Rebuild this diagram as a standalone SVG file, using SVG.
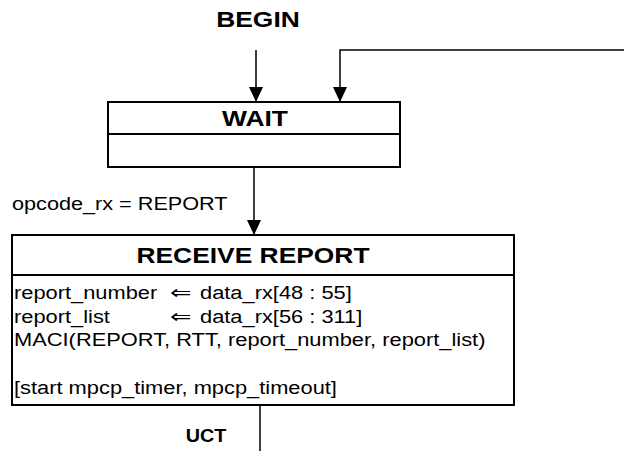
<svg xmlns="http://www.w3.org/2000/svg" width="624" height="451" viewBox="0 0 624 451">
  <style>
    .t { font-family: "Liberation Sans", Arial, sans-serif; fill: #000; }
    .b { font-weight: bold; font-size: 22px; }
    .r { font-size: 19px; }
    .arr { font-family: "DejaVu Sans", sans-serif; font-size: 19px; fill: #000; }
    .box { fill: #fff; stroke: #000; stroke-width: 2; }
    .div { stroke: #000; stroke-width: 2; fill: none; }
    .con { stroke: #000; stroke-width: 1.5; fill: none; }
  </style>
  <defs>
    <marker id="ah" markerUnits="userSpaceOnUse" markerWidth="14" markerHeight="15" viewBox="0 0 14 15" refX="7" refY="15" orient="0">
      <path d="M0,0 L14,0 L7,15 Z" fill="#000"/>
    </marker>
  </defs>
  <rect width="624" height="451" fill="#fff"/>

  <g id="begin">
    <text class="t b" text-anchor="middle" transform="translate(258 27) scale(1.2 1)">BEGIN</text>
  </g>

  <g id="connectors">
    <line class="con" x1="256" y1="50" x2="256" y2="102" marker-end="url(#ah)"/>
    <polyline class="con" points="624,50 340,50 340,102" marker-end="url(#ah)"/>
    <line class="con" x1="254" y1="167" x2="254" y2="235" marker-end="url(#ah)"/>
    <line class="con" x1="260" y1="405" x2="260" y2="451"/>
    <text class="t r" transform="translate(12 210) scale(1.14 1)">opcode_rx = REPORT</text>
    <text class="t b" style="font-size:18px" text-anchor="middle" transform="translate(206 442) scale(1.1 1)">UCT</text>
  </g>

  <g id="wait">
    <rect class="box" x="108" y="102" width="292" height="65"/>
    <line class="div" x1="108" y1="134" x2="400" y2="134"/>
    <text class="t b" text-anchor="middle" transform="translate(255 126) scale(1.2 1)">WAIT</text>
  </g>

  <g id="receive_report">
    <rect class="box" x="12" y="235" width="502" height="170"/>
    <line class="div" x1="12" y1="275" x2="514" y2="275"/>
    <text class="t b" text-anchor="middle" transform="translate(253 263) scale(1.2 1)">RECEIVE REPORT</text>
    <text class="t r" transform="translate(14 299) scale(1.15 1)">report_number</text>
    <text class="arr" transform="translate(170 299) scale(1.35 1)">⇐</text>
    <text class="t r" transform="translate(200 299) scale(1.15 1)">data_rx[48 : 55]</text>
    <text class="t r" transform="translate(14 323) scale(1.15 1)">report_list</text>
    <text class="arr" transform="translate(170 323) scale(1.35 1)">⇐</text>
    <text class="t r" transform="translate(200 323) scale(1.15 1)">data_rx[56 : 311]</text>
    <text class="t r" transform="translate(14 346) scale(1.15 1)">MACI(REPORT, RTT, report_number, report_list)</text>
    <text class="t r" transform="translate(14 394) scale(1.15 1)">[start mpcp_timer, mpcp_timeout]</text>
  </g>
</svg>
